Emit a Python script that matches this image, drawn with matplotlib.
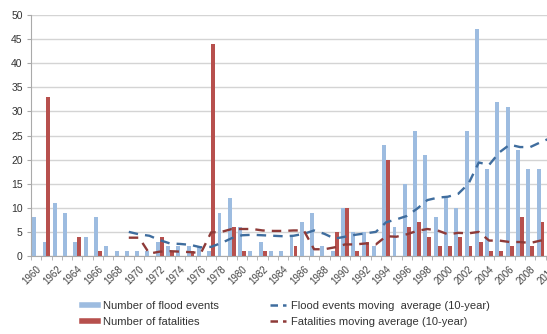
import matplotlib.pyplot as plt
import numpy as np
from matplotlib.lines import Line2D

plt.rcParams["font.family"] = ["Liberation Sans", "DejaVu Sans"]

# =========================
# Datos
# =========================
YEARS = list(range(1960, 2011))

FLOOD_EVENTS = [8, 3, 11, 9, 3, 4, 8, 2, 1, 1,
                1, 1, 3, 2, 2, 2, 2, 1, 9, 12,
                6, 1, 3, 1, 1, 4, 7, 9, 2, 1,
                10, 5, 5, 2, 23, 6, 15, 26, 21, 8,
                12, 10, 26, 47, 18, 32, 31, 22, 18, 18,
                22]

FATALITIES = [0, 33, 0, 0, 4, 0, 1, 0, 0, 0,
              0, 0, 4, 1, 0, 1, 0, 44, 0, 6,
              1, 0, 1, 0, 0, 2, 0, 0, 0, 5,
              10, 1, 3, 0, 20, 0, 6, 7, 4, 2,
              2, 4, 2, 3, 1, 1, 2, 8, 2, 7,
              2]

# medias móviles (10 años), desde 1969
MA_YEARS = list(range(1969, 2011))
FLOOD_MA = [5.0, 4.5, 4.2, 3.3, 2.6, 2.5, 2.3, 1.8, 1.9, 2.7,
            3.7, 4.3, 4.4, 4.3, 4.2, 4.1, 4.2, 4.6, 5.3, 4.6,
            3.6, 4.0, 4.4, 4.7, 5.0, 7.0, 7.6, 8.3, 9.8, 11.6,
            12.1, 12.3, 12.9, 15.0, 19.4, 18.9, 21.5, 23.1, 22.6, 22.6,
            23.6, 24.5]
FATAL_MA = [3.8, 3.8, 0.5, 0.9, 1.0, 0.9, 0.8, 0.6, 4.9, 5.0,
            5.6, 5.6, 5.6, 5.3, 5.2, 5.2, 5.3, 5.3, 1.4, 1.4,
            1.8, 2.4, 2.4, 2.6, 2.4, 4.1, 4.0, 4.5, 5.2, 5.6,
            5.3, 4.5, 4.8, 4.7, 5.0, 3.2, 3.2, 2.9, 2.9, 2.7,
            3.2, 3.0]

BLUE = "#9dbce0"
RED = "#b7504d"
BLUE_LINE = "#3f6d9e"
RED_LINE = "#8e3a38"

# =========================
# Figura
# =========================
W, H = 547, 334
fig = plt.figure(figsize=(W / 100, H / 100), dpi=100)
ax = fig.add_axes([31 / W, (H - 256) / H, (556 - 31) / W, (256 - 15) / H])

x = np.arange(len(YEARS))
bw = 0.38
ax.bar(x - 0.19, FLOOD_EVENTS, width=bw, color=BLUE, zorder=2)
ax.bar(x + 0.19, FATALITIES, width=bw, color=RED, zorder=2)

ma_x = np.array([YEARS.index(y) for y in MA_YEARS])
ax.plot(ma_x, FLOOD_MA, color=BLUE_LINE, lw=1.7, ls=(0, (4, 3)), zorder=3)
ax.plot(ma_x, FATAL_MA, color=RED_LINE, lw=1.7, ls=(0, (4, 3)), zorder=3)

ax.set_xlim(-0.5, len(YEARS) - 0.5)
ax.set_ylim(0, 50)
ax.set_yticks(range(0, 51, 5))
ax.yaxis.grid(True, color="#d4d4d4", lw=1)
ax.set_axisbelow(True)

ax.set_xticks(x[::2])
ax.set_xticklabels([str(y) for y in YEARS[::2]], rotation=45, ha="right",
                   va="top", rotation_mode="anchor", fontsize=7, color="#444444")
ax.set_xticks(np.arange(-0.5, len(YEARS), 1), minor=True)
ax.tick_params(axis="x", which="major", length=0, pad=6)
ax.tick_params(axis="x", which="minor", length=3, color="#aaaaaa")
ax.tick_params(axis="y", length=3, color="#aaaaaa", labelsize=7.5,
               labelcolor="#333333", pad=3)

for side in ["top", "right"]:
    ax.spines[side].set_visible(False)
ax.spines["left"].set_color("#aaaaaa")
ax.spines["bottom"].set_color("#aaaaaa")

handles = [
    Line2D([], [], color=BLUE, lw=4),
    Line2D([], [], color=RED, lw=4),
    Line2D([], [], color=BLUE_LINE, lw=1.8, ls=(0, (3, 2))),
    Line2D([], [], color=RED_LINE, lw=1.8, ls=(0, (3, 2))),
]
labels = [
    "Number of flood events",
    "Number of fatalities",
    "Flood events moving  average (10-year)",
    "Fatalities moving average (10-year)",
]
fig.legend(handles, labels, ncol=2, loc="center left",
           bbox_to_anchor=(72 / W, 1 - 314 / H), frameon=False,
           fontsize=8, handlelength=1.4, handletextpad=0.5,
           columnspacing=4.6, labelspacing=0.55, labelcolor="#333333")

fig.savefig("out.png", dpi=100)
